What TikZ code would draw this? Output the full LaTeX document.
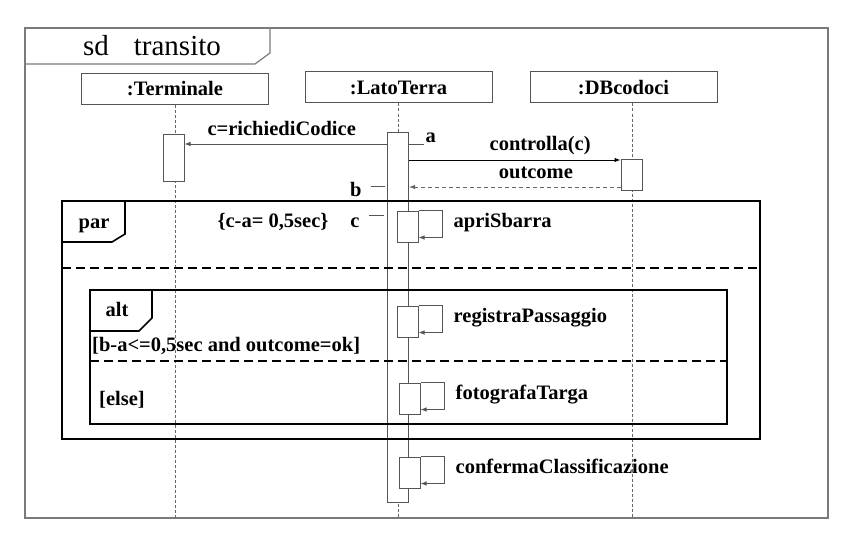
\documentclass[tikz,border=0pt]{standalone}
\usepackage{fontspec}
\setmainfont{Liberation Serif}
\usetikzlibrary{%
  arrows.meta,%
  calc%
}
\definecolor{framegray}{HTML}{7A7A7A}
\definecolor{boxgray}{HTML}{555555}
\definecolor{linegray}{HTML}{666666}
\tikzset{>={Latex[length=6pt,width=4.5pt]}}
\tikzset{
  lbl/.style={font=\fontsize{20.5}{24}\selectfont\bfseries, inner sep=1pt},
  head/.style={lbl, draw=boxgray, line width=1pt, minimum width=187pt, minimum height=31pt},
  act/.style={draw=boxgray, fill=white, line width=1pt, minimum width=21pt, inner sep=0pt},
  lifeline/.style={draw=linegray, line width=0.8pt, dash pattern=on 3pt off 2pt},
  msg/.style={->, line width=1pt},
  reply/.style={->, line width=1pt, draw=linegray, dash pattern=on 4pt off 3pt},
  fragment/.style={line width=1.6pt},
  separator/.style={line width=1.6pt, dash pattern=on 9pt off 5pt},
  tick/.style={line width=1pt, draw=boxgray}
}

\begin{document}
\begin{tikzpicture}[x=1pt,y=-1pt]
  \useasboundingbox (0,0) rectangle (842,532);
  % diagram frame
  \draw[draw=framegray, line width=1.2pt] (25,28) rectangle (828,518);
  \draw[draw=framegray, line width=1.2pt] (25,64) -- (255,64) -- (270,53) -- (270,28);
  \node[font=\fontsize{29}{31}\selectfont, inner sep=0pt] (title) at (152,46)
    {sd\hspace{25pt}transito};

  % lifelines
  \node[head] (term) at (175,89) {:Terminale};
  \node[head] (lato) at (398.5,87.5) {:LatoTerra};
  \node[head] (db) at (623.5,87.5) {:DBcodoci};
  \coordinate (bottom) at (0,518);
  \draw[lifeline] (term.south) -- (term.south |- bottom);
  \draw[lifeline] ($(lato.south)+(-0.5,0)$) -- ($(lato.south |- bottom)+(-0.5,0)$);
  \draw[lifeline] ($(db.south)+(8.5,0)$) -- ($(db.south |- bottom)+(8.5,0)$);

  \node[act, minimum height=370pt] (actL) at (398,317) {};
  \node[act, minimum height=47pt] (actT) at (173.5,157.5) {};
  \node[act, minimum height=31pt] (actD) at (631.5,174.5) {};

  % messages
  \coordinate (yA) at (0,144);
  \coordinate (yC) at (0,160);
  \coordinate (yB) at (0,186);
  \coordinate (yO) at (0,187);
  \coordinate (yS) at (0,215);
  \draw[msg, draw=boxgray] (actL.west |- yA) -- (actT.east |- yA)
    node[lbl, pos=0.52, anchor=base, yshift=9pt] (lReq) {c=richiediCodice};
  \draw[msg] (actL.east |- yC) -- (actD.west |- yC)
    node[lbl, pos=0.62, anchor=base, yshift=10pt] (lCtl) {controlla(c)};
  \draw[reply] (actD.west |- yO) -- (actL.east |- yO)
    node[lbl, pos=0.4, anchor=base, yshift=9pt] (lOut) {outcome};

  % time marks
  \draw[tick] (actL.east |- yA) -- ++(15,0)
    node[lbl, anchor=base west, yshift=2pt] (ta) {a};
  \draw[tick] ($(actL.west |- yB)+(-2,0)$) -- ++(-14,0)
    node[lbl, anchor=base east, xshift=-8pt, yshift=-10pt] (tb) {b};
  \draw[tick] ($(actL.west |- yS)+(-3,0)$) -- ++(-15,0)
    node[lbl, anchor=base east, xshift=-8pt, yshift=-12pt] (tc) {c};
  \node[lbl, anchor=base] (constr) at (273,227) {\{c-a= 0,5sec\}};

  % par fragment
  \draw[fragment] (62,201) rectangle (760,439);
  \draw[fragment] (62,242) -- (112,242) -- (125,234) -- (125,201);
  \node[lbl, anchor=base] (tPar) at (94,228) {par};
  \draw[separator] (62,268) -- (760,268);

  % alt fragment
  \draw[fragment] (90,290) rectangle (727,424);
  \draw[fragment] (90,331) -- (139,331) -- (152,318) -- (152,290);
  \node[lbl, anchor=base] (tAlt) at (117,316) {alt};
  \node[lbl, anchor=base west] (gOk) at (91,351) {[b-a<=0,5sec and outcome=ok]};
  \draw[separator] (90,361) -- (727,361);
  \node[lbl, anchor=base west] (gElse) at (98,405) {[else]};

  % self calls
  \foreach \name/\cx/\cy/\txt in {sOpen/407.5/226.5/apriSbarra,
      sReg/407.5/321.5/registraPassaggio,
      sFoto/409.5/398.5/fotografaTarga,
      sConf/409.5/472.5/confermaClassificazione} {
    \node[act, minimum height=31pt] (\name) at (\cx,\cy) {};
    \draw[msg, draw=boxgray] (\name.north east) -| ($(\name.south east)+(24,-5)$)
      -- ($(\name.south east)+(0,-5)$);
    \node[lbl, anchor=base west] (\name-l) at ($(\name.north east)+(34,17)$) {\txt};
  }
\end{tikzpicture}
\end{document}
